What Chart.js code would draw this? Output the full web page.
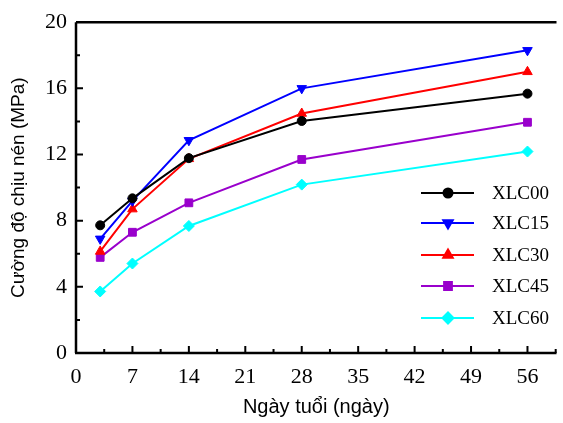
<!DOCTYPE html>
<html>
<head>
<meta charset="utf-8">
<script src="https://cdn.jsdelivr.net/npm/chart.js@4"></script>
<style>
  html, body { margin: 0; padding: 0; background: #fff; }
  #wrap { width: 563px; height: 423px; }
</style>
</head>
<body>
<div id="wrap"><canvas id="chart"></canvas></div>
<script>
// --- Data ---
const ages = [3, 7, 14, 28, 56];
const xlc00 = [7.72, 9.35, 11.78, 14.03, 15.68];
const xlc15 = [6.9, 9.2, 12.86, 16.0, 18.3];
const xlc30 = [6.14, 8.7, 11.74, 14.48, 17.0];
const xlc45 = [5.78, 7.3, 9.08, 11.7, 13.95];
const xlc60 = [3.72, 5.41, 7.68, 10.18, 12.18];
const seriesNames = ["XLC00", "XLC15", "XLC30", "XLC45", "XLC60"];
const xTickLabels = [0, 7, 14, 21, 28, 35, 42, 49, 56];
const yTickLabels = [0, 4, 8, 12, 16, 20];

const serif = "'Liberation Serif', 'Times New Roman', serif";
const sans = "'Liberation Sans', Arial, sans-serif";

const styles = [
  { color: "#000000", point: "circle", rot: 0, r: 4.5 },
  { color: "#0000ff", point: "triangle", rot: 180, r: 5.5 },
  { color: "#ff0000", point: "triangle", rot: 0, r: 5.5 },
  { color: "#9900cc", point: "rect", rot: 0, r: 5.5 },
  { color: "#00ffff", point: "rectRot", rot: 0, r: 5.5 }
];

const values = [xlc00, xlc15, xlc30, xlc45, xlc60];
const datasets = values.map((v, i) => ({
  label: seriesNames[i],
  data: ages.map((a, j) => ({ x: a, y: v[j] })),
  borderColor: styles[i].color,
  backgroundColor: styles[i].color,
  borderWidth: 2,
  pointStyle: styles[i].point,
  rotation: styles[i].rot,
  pointRadius: styles[i].r,
  pointBorderWidth: 1,
  tension: 0
}));

// --- Frame, inward ticks and legend ---
const framePlugin = {
  id: "frame",
  afterDatasetsDraw(chart) {
    const { ctx, chartArea: a, scales } = chart;
    ctx.save();
    ctx.strokeStyle = "#000";
    ctx.lineWidth = 2.5;
    ctx.beginPath();
    ctx.moveTo(a.left, a.top); ctx.lineTo(a.right, a.top);
    ctx.moveTo(a.left, a.top); ctx.lineTo(a.left, a.bottom);
    ctx.moveTo(a.left - 1, a.bottom); ctx.lineTo(a.right, a.bottom);
    ctx.stroke();

    ctx.lineWidth = 2;
    ctx.beginPath();
    for (let v = 3.5; v < 60; v += 3.5) {
      const px = scales.x.getPixelForValue(v);
      const len = (v % 7 === 0) ? 7 : 4;
      ctx.moveTo(px, a.bottom); ctx.lineTo(px, a.bottom - len);
    }
    for (let v = 2; v < 20; v += 2) {
      const py = scales.y.getPixelForValue(v);
      const len = (v % 4 === 0) ? 7 : 4;
      ctx.moveTo(a.left, py); ctx.lineTo(a.left + len, py);
    }
    ctx.stroke();

    // legend: line sample + marker + label
    const rows = [193, 223, 255, 286, 318];
    chart.data.datasets.forEach((ds, i) => {
      const y = rows[i];
      ctx.strokeStyle = ds.borderColor;
      ctx.lineWidth = 2;
      ctx.beginPath();
      ctx.moveTo(421, y); ctx.lineTo(474, y);
      ctx.stroke();
      ctx.fillStyle = ds.backgroundColor;
      Chart.helpers.drawPoint(ctx, {
        pointStyle: ds.pointStyle, rotation: ds.rotation,
        radius: ds.pointRadius, borderWidth: 1
      }, 448, y);
      ctx.fillStyle = "#000";
      ctx.font = "19px " + serif;
      ctx.textBaseline = "middle";
      ctx.textAlign = "left";
      ctx.fillText(ds.label, 492, y + 1);
    });
    ctx.restore();
  }
};

new Chart(document.getElementById("chart"), {
  type: "line",
  data: { datasets },
  plugins: [framePlugin],
  options: {
    responsive: true,
    maintainAspectRatio: false,
    animation: false,
    layout: { padding: { top: 17, right: 0, left: 0, bottom: 0 } },
    plugins: { legend: { display: false }, tooltip: { enabled: false } },
    scales: {
      x: {
        type: "linear",
        min: 0,
        max: 59.6,
        afterFit(s) { s.height = 70; },
        afterBuildTicks(s) { s.ticks = xTickLabels.map(v => ({ value: v })); },
        grid: { display: false, drawTicks: false },
        border: { display: false },
        ticks: {
          color: "#000",
          font: { family: serif, size: 22 },
          padding: 11,
          maxRotation: 0,
          autoSkip: false
        },
        title: {
          display: true,
          text: "Ngày tuổi (ngày)",
          color: "#000",
          font: { family: sans, size: 20 },
          padding: { top: 0, bottom: 4 }
        }
      },
      y: {
        min: 0,
        max: 20,
        afterFit(s) { s.width = 76; },
        afterBuildTicks(s) { s.ticks = yTickLabels.map(v => ({ value: v })); },
        grid: { display: false, drawTicks: false },
        border: { display: false },
        ticks: {
          color: "#000",
          font: { family: serif, size: 22 },
          padding: 9
        },
        title: {
          display: true,
          text: "Cường độ chịu nén (MPa)",
          color: "#000",
          font: { family: sans, size: 19 },
          padding: { top: 7, bottom: 0 }
        }
      }
    }
  }
});
</script>
</body>
</html>
